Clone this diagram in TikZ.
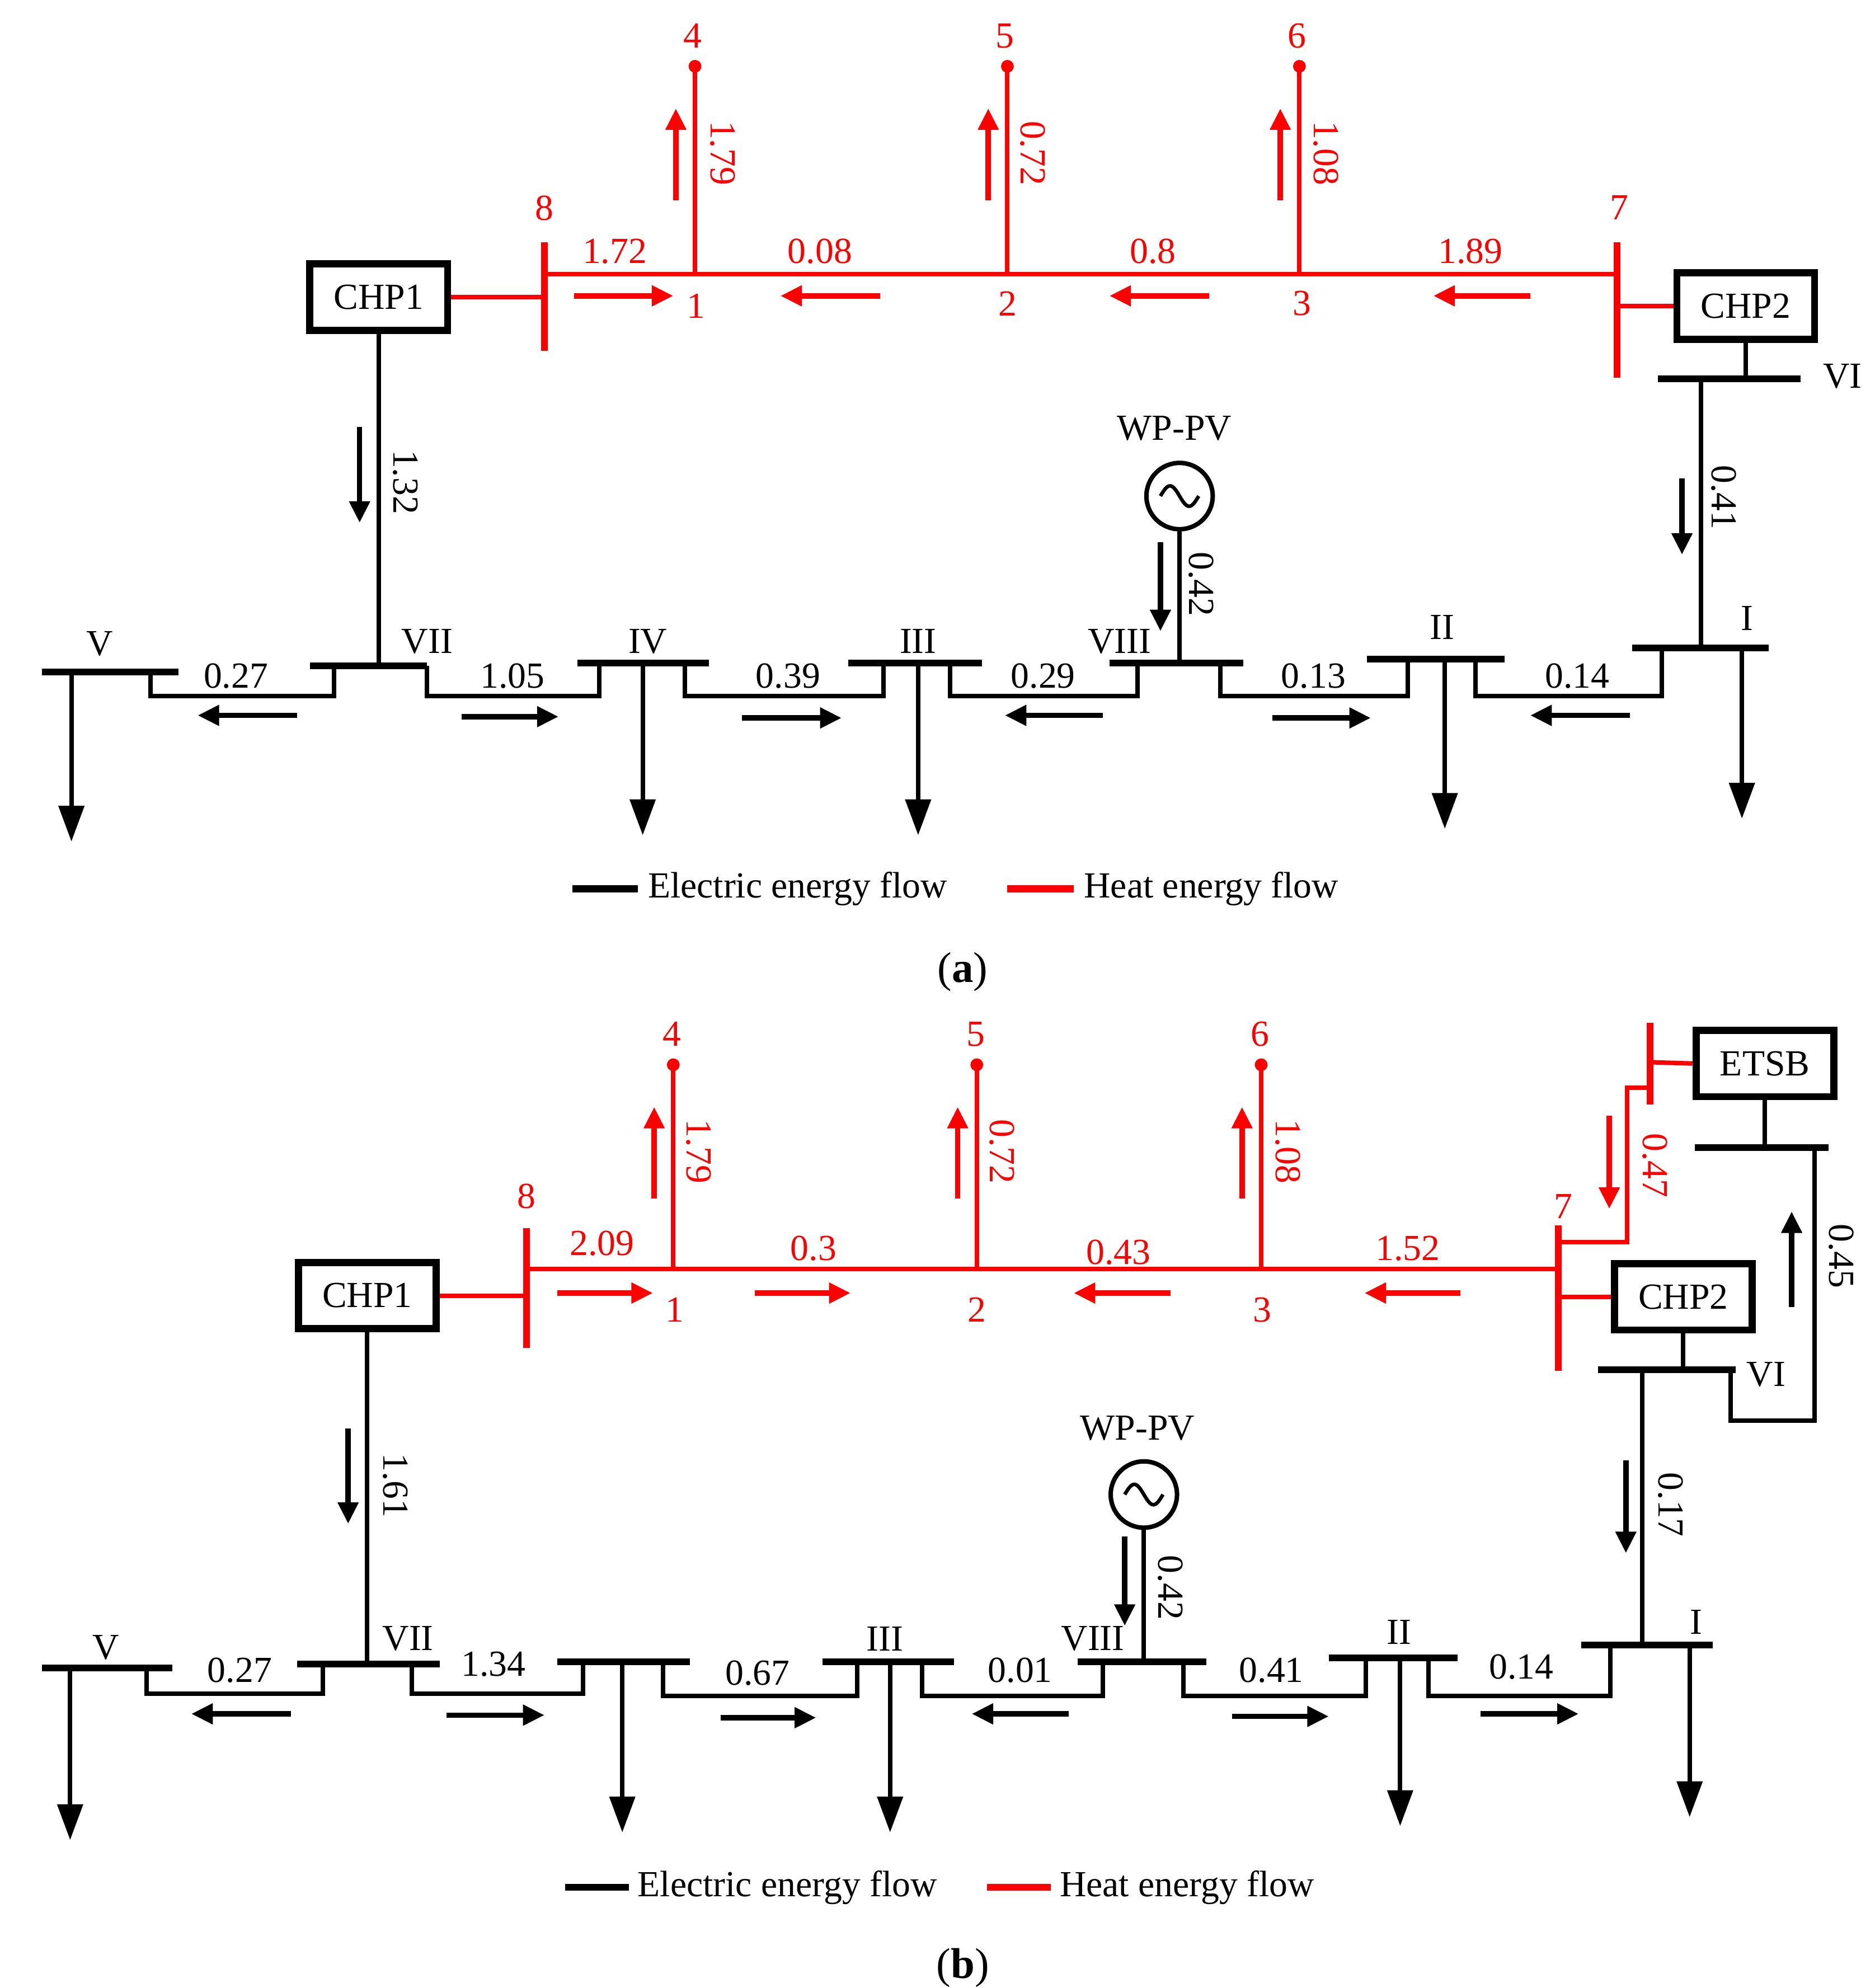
\documentclass[tikz,border=0pt]{standalone}
\usepackage{fontspec}
\setmainfont{Liberation Serif}
\usetikzlibrary{arrows.meta}
\definecolor{hred}{RGB}{255,0,0}
\tikzset{
  x=0.05cm,y=-0.05cm,
  lbl/.style={font=\fontsize{41}{47}\selectfont,inner sep=0pt},
  rlbl/.style={lbl,rotate=-90},
  ln/.style={line width=5pt},
  bus/.style={line width=7.5pt},
  box/.style={draw,line width=8pt,inner sep=0pt,minimum width=5.4cm,minimum height=2.6cm,font=\fontsize{41}{47}\selectfont},
  farr/.style={line width=6pt,-{Triangle[length=24pt,width=22pt]}},
  larr/.style={line width=5pt,-{Triangle[length=40pt,width=28pt]}},
  heat/.style={hred},
}
\begin{document}
\begin{tikzpicture}
\useasboundingbox (0,0) rectangle (1470,1559);
% ================= (a) =================
\node[box] (chp1a) at (297,233) {CHP1};
\node[box] (chp2a) at (1369,240) {CHP2};
\begin{scope}[heat]
\draw[ln] (427,215) -- (1268,215);
\draw[bus] (427,190) -- (427,275);
\draw[bus] (1268,190) -- (1268,296);
\draw[ln] (chp1a.east) -- (427,233);
\draw[ln] (1268,240) -- (chp2a.west);
\node[lbl] at (427,163) {8};
\node[lbl] at (1270,163) {7};
\foreach \x/\n/\v/\lx in {545/4/1.79/567,790/5/0.72/810,1019/6/1.08/1040}{
  \draw[ln] (\x,215) -- (\x,52);
  \fill (\x,52) circle (5);
  \node[lbl] at (\x-2,28) {\n};
  \draw[farr] (\x-15,157) -- (\x-15,85);
  \node[rlbl] at (\lx,120) {\v};
}
\node[lbl] at (546,240) {1};
\node[lbl] at (790,238) {2};
\node[lbl] at (1021,238) {3};
\node[lbl] at (482,197) {1.72};
\node[lbl] at (643,197) {0.08};
\node[lbl] at (904,197) {0.8};
\node[lbl] at (1153,197) {1.89};
\draw[farr] (450,232) -- (528,232);
\draw[farr] (690,232) -- (612,232);
\draw[farr] (948,232) -- (870,232);
\draw[farr] (1200,232) -- (1124,232);
\end{scope}
% electric (a)
\draw[ln] (chp1a.south) -- (297,522);
\draw[farr] (282,335) -- (282,410);
\node[rlbl] at (318,378) {1.32};
\draw[ln] (chp2a.south) -- (1369,297);
\draw[bus] (1300,297) -- (1412,297);
\node[lbl] at (1445,295) {VI};
\draw[ln] (1334,297) -- (1334,508);
\draw[farr] (1319,375) -- (1319,435);
\node[rlbl] at (1352,390) {0.41};
\draw[bus] (1280,508) -- (1387,508);
\node[lbl] at (1370,485) {I};
\draw[larr] (1366,508) -- (1366,642);
% buses
\draw[bus] (33,527) -- (140,527); \node[lbl] at (78,505) {V};
\draw[larr] (56,527) -- (56,660);
\draw[bus] (243,522) -- (335,522); \node[lbl] at (335,503) {VII};
\draw[bus] (453,520) -- (556,520); \node[lbl] at (508,503) {IV};
\draw[larr] (504,520) -- (504,655);
\draw[bus] (665,520) -- (770,520); \node[lbl] at (720,503) {III};
\draw[larr] (720,520) -- (720,655);
\draw[bus] (870,520) -- (975,520); \node[lbl] at (878,503) {VIII};
\draw[bus] (1072,517) -- (1180,517); \node[lbl] at (1131,492) {II};
\draw[larr] (1133,517) -- (1133,650);
% links
\draw[ln] (118,527) -- (118,546) -- (262,546) -- (262,522);
\node[lbl] at (185,530) {0.27}; \draw[farr] (233,561) -- (155,561);
\draw[ln] (335,522) -- (335,546) -- (470,546) -- (470,520);
\node[lbl] at (402,530) {1.05}; \draw[farr] (362,562) -- (438,562);
\draw[ln] (537,520) -- (537,546) -- (693,546) -- (693,520);
\node[lbl] at (618,530) {0.39}; \draw[farr] (582,563) -- (660,563);
\draw[ln] (745,520) -- (745,546) -- (892,546) -- (892,520);
\node[lbl] at (818,530) {0.29}; \draw[farr] (865,561) -- (788,561);
\draw[ln] (957,520) -- (957,546) -- (1104,546) -- (1104,517);
\node[lbl] at (1030,530) {0.13}; \draw[farr] (998,563) -- (1075,563);
\draw[ln] (1157,517) -- (1157,546) -- (1303,546) -- (1303,508);
\node[lbl] at (1237,530) {0.14}; \draw[farr] (1278,561) -- (1200,561);
% generator
\node[draw,circle,line width=5pt,minimum size=2.6cm,inner sep=0pt] (ga) at (925,389) {};
\draw[line width=4pt] (ga.center) ++(-15,0) sin ++(7.5,-8) cos ++(7.5,8) sin ++(7.5,8) cos ++(7.5,-8);
\draw[ln] (ga.south) -- (925,520);
\node[lbl] at (921,336) {WP-PV};
\draw[farr] (910,425) -- (910,495);
\node[rlbl] at (942,458) {0.42};
% legend
\draw[bus] (449,697) -- (500,697); \node[lbl,anchor=west] at (508,697) {Electric energy flow};
\draw[bus,hred] (790,697) -- (842,697); \node[lbl,anchor=west] at (850,697) {Heat energy flow};
\node[lbl,font=\fontsize{48}{54}\selectfont] at (755,762) {(\textbf{a})};
% ================= (b) =================
\node[box] (chp1b) at (288,1016) {CHP1};
\node[box] (chp2b) at (1320,1017) {CHP2};
\node[box] (etsb) at (1384,834) {ETSB};
\begin{scope}[heat]
\draw[ln] (413,995) -- (1222,995);
\draw[bus] (413,963) -- (413,1057);
\draw[bus] (1222,961) -- (1222,1075);
\draw[ln] (chp1b.east) -- (413,1016);
\draw[ln] (1222,1017) -- (chp2b.west);
\draw[ln] (1222,974) -- (1276,974) -- (1276,853) -- (1294,853);
\draw[bus] (1294,802) -- (1294,866);
\draw[ln] (1294,833) -- (etsb.west);
\draw[farr] (1262,875) -- (1262,948);
\node[rlbl] at (1298,914) {0.47};
\node[lbl] at (413,938) {8};
\node[lbl] at (1226,946) {7};
\foreach \x/\n/\v/\lx in {528/4/1.79/548,766/5/0.72/786,989/6/1.08/1010}{
  \draw[ln] (\x,995) -- (\x,835);
  \fill (\x,835) circle (5);
  \node[lbl] at (\x-1,811) {\n};
  \draw[farr] (\x-15,940) -- (\x-15,868);
  \node[rlbl] at (\lx,903) {\v};
}
\node[lbl] at (529,1027) {1};
\node[lbl] at (766,1027) {2};
\node[lbl] at (990,1027) {3};
\node[lbl] at (472,975) {2.09};
\node[lbl] at (638,979) {0.3};
\node[lbl] at (877,982) {0.43};
\node[lbl] at (1104,979) {1.52};
\draw[farr] (437,1014) -- (512,1014);
\draw[farr] (592,1014) -- (667,1014);
\draw[farr] (918,1014) -- (842,1014);
\draw[farr] (1145,1014) -- (1070,1014);
\end{scope}
% electric (b)
\draw[ln] (etsb.south) -- (1384,900);
\draw[bus] (1329,900) -- (1434,900);
\draw[ln] (1423,900) -- (1423,1114) -- (1357,1114) -- (1357,1074);
\draw[farr] (1405,1025) -- (1405,950);
\node[rlbl] at (1444,985) {0.45};
\draw[ln] (chp2b.south) -- (1320,1074);
\draw[bus] (1253,1074) -- (1361,1074);
\node[lbl] at (1385,1078) {VI};
\draw[ln] (1288,1074) -- (1288,1290);
\draw[farr] (1275,1145) -- (1275,1218);
\node[rlbl] at (1310,1180) {0.17};
\draw[bus] (1240,1290) -- (1343,1290); \node[lbl] at (1330,1272) {I};
\draw[larr] (1325,1290) -- (1325,1425);
\draw[ln] (chp1b.south) -- (288,1305);
\draw[farr] (273,1120) -- (273,1195);
\node[rlbl] at (310,1165) {1.61};
\draw[bus] (33,1308) -- (135,1308); \node[lbl] at (83,1292) {V};
\draw[larr] (55,1308) -- (55,1443);
\draw[bus] (233,1305) -- (345,1305); \node[lbl] at (320,1285) {VII};
\draw[bus] (437,1303) -- (541,1303);
\draw[larr] (488,1303) -- (488,1437);
\draw[bus] (645,1303) -- (748,1303); \node[lbl] at (694,1285) {III};
\draw[larr] (698,1303) -- (698,1437);
\draw[bus] (845,1303) -- (946,1303); \node[lbl] at (857,1285) {VIII};
\draw[bus] (1042,1300) -- (1143,1300); \node[lbl] at (1097,1280) {II};
\draw[larr] (1098,1300) -- (1098,1432);
\draw[ln] (115,1308) -- (115,1328) -- (253,1328) -- (253,1305);
\node[lbl] at (188,1310) {0.27}; \draw[farr] (228,1344) -- (150,1344);
\draw[ln] (323,1305) -- (323,1328) -- (457,1328) -- (457,1303);
\node[lbl] at (387,1305) {1.34}; \draw[farr] (350,1345) -- (427,1345);
\draw[ln] (520,1303) -- (520,1330) -- (672,1330) -- (672,1303);
\node[lbl] at (594,1312) {0.67}; \draw[farr] (565,1347) -- (640,1347);
\draw[ln] (723,1303) -- (723,1330) -- (865,1330) -- (865,1303);
\node[lbl] at (800,1310) {0.01}; \draw[farr] (838,1344) -- (762,1344);
\draw[ln] (928,1303) -- (928,1330) -- (1071,1330) -- (1071,1300);
\node[lbl] at (997,1310) {0.41}; \draw[farr] (966,1346) -- (1042,1346);
\draw[ln] (1120,1300) -- (1120,1330) -- (1263,1330) -- (1263,1290);
\node[lbl] at (1193,1307) {0.14}; \draw[farr] (1161,1344) -- (1238,1344);
\node[draw,circle,line width=5pt,minimum size=2.6cm,inner sep=0pt] (gb) at (897,1172) {};
\draw[line width=4pt] (gb.center) ++(-15,0) sin ++(7.5,-8) cos ++(7.5,8) sin ++(7.5,8) cos ++(7.5,-8);
\draw[ln] (gb.south) -- (897,1303);
\node[lbl] at (892,1120) {WP-PV};
\draw[farr] (882,1205) -- (882,1275);
\node[rlbl] at (918,1245) {0.42};
\draw[bus] (443,1480) -- (493,1480); \node[lbl,anchor=west] at (500,1480) {Electric energy flow};
\draw[bus,hred] (774,1480) -- (824,1480); \node[lbl,anchor=west] at (831,1480) {Heat energy flow};
\node[lbl,font=\fontsize{48}{54}\selectfont] at (755,1543) {(\textbf{b})};
\end{tikzpicture}
\end{document}
